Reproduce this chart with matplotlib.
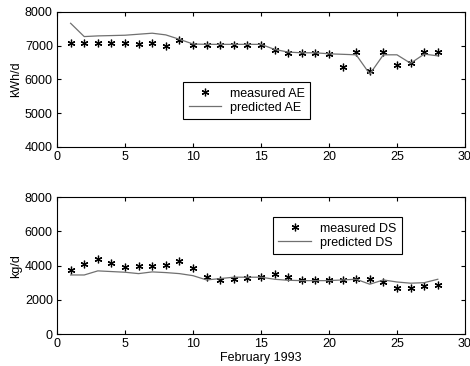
import numpy as np
from matplotlib import pyplot as plt

plt.rcParams['font.family'] = ['Liberation Sans', 'DejaVu Sans']
plt.rcParams['font.size'] = 9

days = np.arange(1, 29)

# energy (kWh/d)
measured_ae = [7070, 7070, 7070, 7080, 7070, 7060, 7070, 7000, 7170, 7020,
               7020, 7020, 7020, 7020, 7020, 6870, 6795, 6775, 6780, 6755,
               6380, 6825, 6260, 6805, 6420, 6480, 6825, 6825]
predicted_ae = [7664, 7270, 7290, 7300, 7310, 7340, 7370, 7320, 7190, 7050,
                7040, 7040, 7040, 7040, 7040, 6890, 6810, 6790, 6790, 6760,
                6745, 6730, 6160, 6730, 6730, 6480, 6750, 6700]

# dry solids (kg/d)
measured_ds = [3750, 4100, 4390, 4175, 3900, 3980, 3980, 4020, 4290, 3840,
               3320, 3160, 3200, 3260, 3320, 3490, 3360, 3160, 3160, 3160,
               3160, 3200, 3200, 3020, 2670, 2670, 2810, 2870]
predicted_ds = [3450, 3450, 3690, 3650, 3610, 3530, 3630, 3590, 3530, 3410,
                3160, 3240, 3320, 3320, 3320, 3200, 3140, 3120, 3120, 3120,
                3160, 3200, 2910, 3160, 3040, 2970, 3000, 3200]

asterisk = (6, 2, 0)

fig = plt.figure(figsize=(4.70, 3.66), dpi=100)
ax1 = fig.add_axes([0.1213, 0.5984, 0.868, 0.369])
ax2 = fig.add_axes([0.1213, 0.0874, 0.868, 0.374])

for ax in (ax1, ax2):
    ax.tick_params(direction='in', top=True, right=True, length=3, width=0.8, pad=3)
    for s in ax.spines.values():
        s.set_linewidth(0.8)
    ax.set_xlim(0, 30)
    ax.set_xticks([0, 5, 10, 15, 20, 25, 30])

legend_style = dict(loc='upper left', frameon=True, fancybox=False,
                    edgecolor='black', framealpha=1, borderpad=0.45,
                    handlelength=2.6, labelspacing=0.15, handletextpad=0.7,
                    borderaxespad=0, fontsize=9)

m1, = ax1.plot(days, measured_ae, linestyle='none', marker=asterisk, ms=5.5,
               color='black', mew=0.9)
p1, = ax1.plot(days, predicted_ae, color='#707070', lw=0.9)
ax1.set_ylim(4000, 8000)
ax1.set_yticks([4000, 5000, 6000, 7000, 8000])
ax1.set_ylabel("kWh/d", labelpad=2)
leg1 = ax1.legend([m1, p1], ["measured AE", "predicted AE"],
                  bbox_to_anchor=(0.309, 0.48), **legend_style)
leg1.get_frame().set_linewidth(0.8)

m2, = ax2.plot(days, measured_ds, linestyle='none', marker=asterisk, ms=5.5,
               color='black', mew=0.9)
p2, = ax2.plot(days, predicted_ds, color='#707070', lw=0.9)
ax2.set_ylim(0, 8000)
ax2.set_yticks([0, 2000, 4000, 6000, 8000])
ax2.set_ylabel("kg/d", labelpad=2)
ax2.set_xlabel("February 1993", labelpad=1)
leg2 = ax2.legend([m2, p2], ["measured DS", "predicted DS"],
                  bbox_to_anchor=(0.529, 0.854), **legend_style)
leg2.get_frame().set_linewidth(0.8)

fig.savefig("out.png", dpi=100)
